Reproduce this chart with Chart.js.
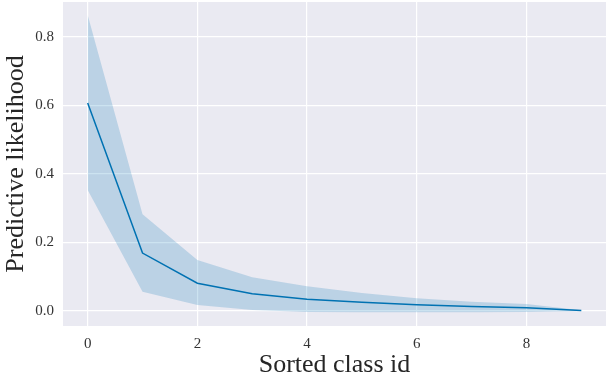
<!DOCTYPE html>
<html>
<head>
<meta charset="utf-8">
<script src="https://cdn.jsdelivr.net/npm/chart.js@4"></script>
<style>
  html, body { margin: 0; padding: 0; background: #fff; }
  #wrap { width: 606px; height: 381px; position: relative; }
</style>
</head>
<body>
<div id="wrap"><canvas id="likChart"></canvas></div>
<script>
/* ===== data ===== */
const classIds  = [0, 1, 2, 3, 4, 5, 6, 7, 8, 9];
const meanLik   = [0.607, 0.169, 0.081, 0.050, 0.034, 0.025, 0.018, 0.013, 0.009, 0.001];
const upperLik  = [0.864, 0.282, 0.149, 0.098, 0.072, 0.052, 0.037, 0.027, 0.020, 0.002];
const lowerLik  = [0.353, 0.056, 0.017, 0.003, -0.003, -0.004, -0.004, -0.004, -0.003, 0.000];
const xTicks    = [0, 2, 4, 6, 8];
const yTicks    = [0.0, 0.2, 0.4, 0.6, 0.8];

const toPts = (arr) => arr.map((v, i) => ({ x: classIds[i], y: v }));

// seaborn-ish grey panel behind the plot
const panelBg = {
    id: "panelBg",
    beforeDraw(chart) {
        const { ctx, chartArea: a } = chart;
        ctx.save();
        ctx.fillStyle = "#EAEAF2";
        ctx.fillRect(a.left, a.top, a.right - a.left, a.bottom - a.top);
        ctx.restore();
    }
};

const serif = "'Liberation Serif', 'DejaVu Serif', serif";

new Chart(document.getElementById("likChart"), {
    type: "line",
    data: {
        datasets: [
            {
                data: toPts(upperLik),
                borderColor: "rgba(0,0,0,0)",
                backgroundColor: "rgba(0,114,178,0.2)",
                fill: "+1",
                pointRadius: 0,
                borderWidth: 0
            },
            {
                data: toPts(lowerLik),
                borderColor: "rgba(0,0,0,0)",
                fill: false,
                pointRadius: 0,
                borderWidth: 0
            },
            {
                data: toPts(meanLik),
                borderColor: "#0072B2",
                borderWidth: 1.5,
                fill: false,
                pointRadius: 0
            }
        ]
    },
    options: {
        responsive: true,
        maintainAspectRatio: false,
        animation: false,
        layout: { padding: { top: 2, right: 0, bottom: 0, left: 0 } },
        plugins: {
            legend: { display: false },
            tooltip: { enabled: false }
        },
        scales: {
            x: {
                type: "linear",
                min: -0.45,
                max: 9.45,
                afterBuildTicks: (s) => { s.ticks = xTicks.map(v => ({ value: v })); },
                afterFit: (s) => { s.height = 55; s.paddingLeft = 0; s.paddingRight = 0; },
                grid: { color: "#fff", lineWidth: 1.2, drawTicks: false },
                border: { display: false },
                ticks: {
                    padding: 9,
                    color: "#333",
                    font: { family: serif, size: 15 }
                },
                title: {
                    display: true,
                    text: "Sorted class id",
                    color: "#262626",
                    font: { family: serif, size: 26 },
                    padding: { top: 2, bottom: 0 }
                }
            },
            y: {
                min: -0.044,
                max: 0.902,
                afterBuildTicks: (s) => { s.ticks = yTicks.map(v => ({ value: v })); },
                afterFit: (s) => { s.width = 63; s.paddingTop = 0; s.paddingBottom = 0; },
                grid: { color: "#fff", lineWidth: 1.2, drawTicks: false },
                border: { display: false },
                ticks: {
                    padding: 9,
                    color: "#333",
                    font: { family: serif, size: 15 },
                    callback: (v) => v.toFixed(1)
                },
                title: {
                    display: true,
                    text: "Predictive likelihood",
                    color: "#262626",
                    font: { family: serif, size: 26 },
                    padding: { top: 1, bottom: 0 }
                }
            }
        }
    },
    plugins: [panelBg]
});
</script>
</body>
</html>
